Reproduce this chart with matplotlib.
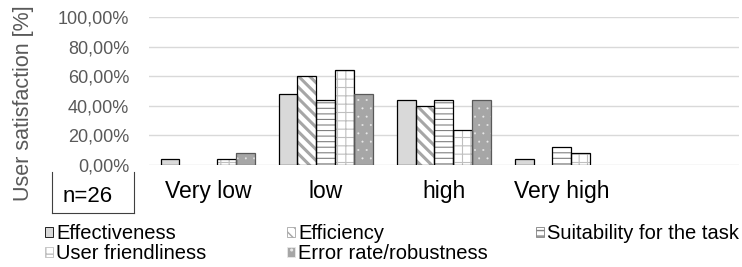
import numpy as np
import matplotlib.pyplot as plt
from matplotlib.patches import Patch
from matplotlib.lines import Line2D

plt.rcParams['font.family'] = ['Liberation Sans', 'DejaVu Sans']

categories = ['Very low', 'low', 'high', 'Very high', '']
series = ['Effectiveness', 'Efficiency', 'Suitability for the task',
          'User friendliness', 'Error rate/robustness']
effectiveness = [4, 48, 44, 4, 0]
efficiency = [0, 60, 40, 0, 0]
suitability = [0, 44, 44, 12, 0]
user_friendliness = [4, 64, 24, 8, 0]
error_rate = [8, 48, 44, 0, 0]
yticks = [0, 20, 40, 60, 80, 100]
sample_label = 'n=26'

values = [effectiveness, efficiency, suitability, user_friendliness, error_rate]

# face, hatch, hatch colour, edge colour, hatch linewidth
styles = [
    ('#d9d9d9', None, '#d9d9d9', '#000000', 1.0),
    ('white', '\\\\\\', '#a6a6a6', '#000000', 2.2),
    ('white', '---', '#808080', '#000000', 0.8),
    ('white', '++', '#bfbfbf', '#000000', 0.8),
    ('#a6a6a6', '..', '#e8e8e8', '#595959', 0.2),
]

fig = plt.figure(figsize=(7.42, 2.67), dpi=100)
ax = fig.add_axes([148.75 / 742, 1 - 165 / 267, (739 - 148.75) / 742, (165 - 17.3) / 267])

idx = np.arange(len(categories))
w = 0.16
for i, vals in enumerate(values):
    face, hatch, hcol, edge, hlw = styles[i]
    v = np.array(vals, dtype=float)
    m = v > 0
    x = idx[m] + (i - 2) * w
    with plt.rc_context({'hatch.linewidth': hlw}):
        ax.bar(x, v[m], w, color=face, edgecolor=hcol, hatch=hatch, linewidth=0, zorder=2)
    ax.bar(x, v[m], w, fill=False, edgecolor=edge, linewidth=0.9, zorder=3)

ax.set_xlim(-0.5, len(categories) - 0.5)
ax.set_ylim(0, 100)
ax.set_yticks(yticks)
ax.set_yticklabels([('%.2f%%' % t).replace('.', ',') for t in yticks],
                   fontsize=13, color='#595959')
ax.set_xticks(idx)
ax.set_xticklabels(categories, fontsize=16.5)
ax.tick_params(axis='y', length=0, pad=14)
ax.tick_params(axis='x', length=0, pad=11)
ax.yaxis.grid(True, color='#d9d9d9', linewidth=1)
ax.set_axisbelow(True)
for s in ax.spines.values():
    s.set_visible(False)

fig.text(23.5 / 742, 1 - 103 / 267, 'User satisfaction [%]', rotation=90,
         ha='center', va='center', fontsize=15.5, color='#595959')

# n=26 cell
for xs, ys in [([52, 52], [172, 213]), ([134, 134], [172, 213]), ([52, 134], [213, 213])]:
    fig.add_artist(Line2D([x / 742 for x in xs], [1 - y / 267 for y in ys],
                          color='#404040', linewidth=0.8))
fig.text(88 / 742, 1 - 197 / 267, sample_label, ha='center', va='center', fontsize=16)

handles = []
for i, name in enumerate(series):
    face, hatch, hcol, edge, hlw = styles[i]
    handles.append(Patch(facecolor=face, edgecolor=hcol if hatch else edge,
                         hatch=hatch, linewidth=0.6, label=name))

columns = [([0, 3], 45), ([1, 4], 287), ([2], 536)]
for items, xpos in columns:
    leg = fig.legend([handles[k] for k in items], [series[k] for k in items],
                     loc='upper left', bbox_to_anchor=(xpos / 742, 1 - 224 / 267),
                     bbox_transform=fig.transFigure, frameon=False, fontsize=14.5,
                     handlelength=0.4, handleheight=0.4, handletextpad=0.15,
                     borderpad=0, borderaxespad=0, labelspacing=0.05)

fig.savefig('out.png', dpi=100)
